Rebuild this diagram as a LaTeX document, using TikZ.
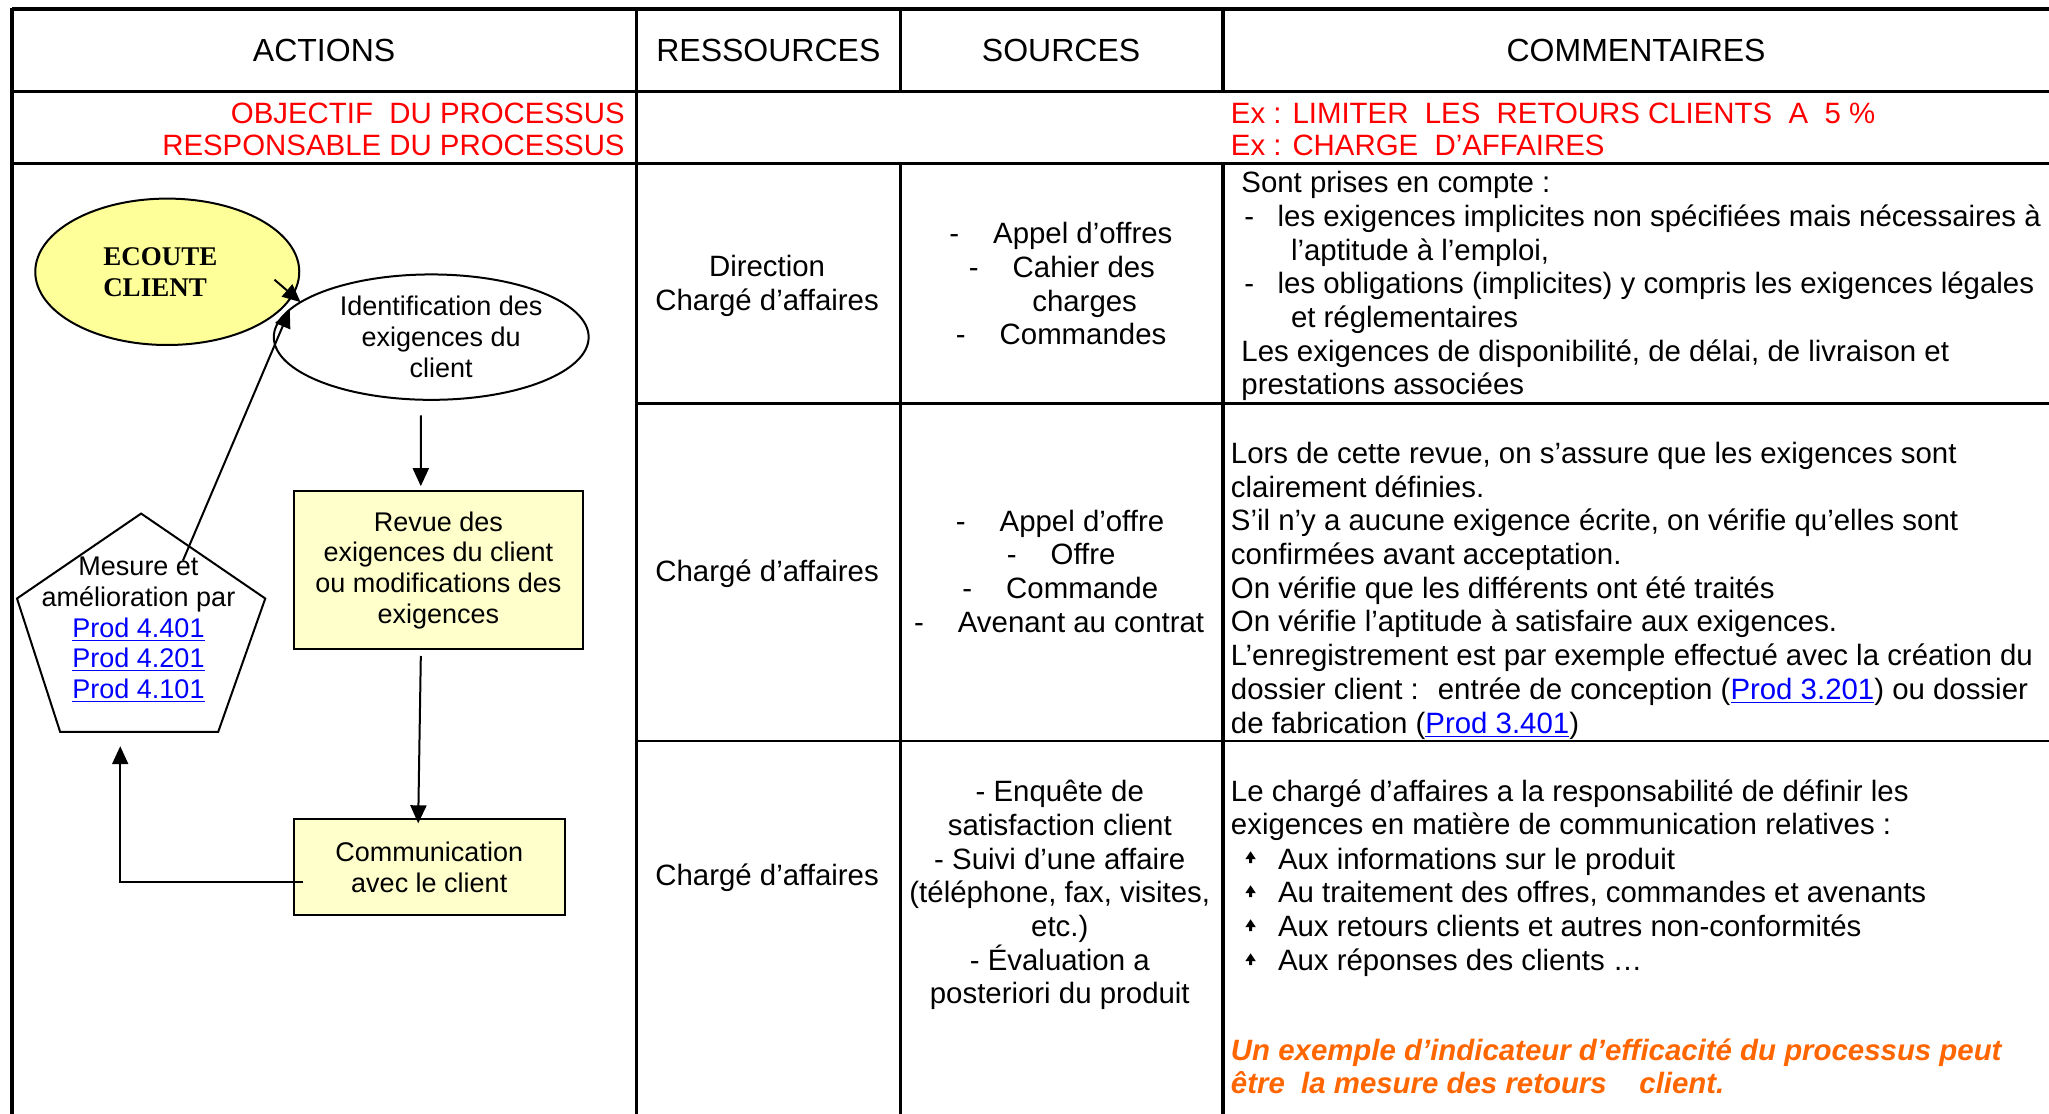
\documentclass[tikz,border=0pt]{standalone}
\usepackage{fontspec}
\setmainfont{Liberation Sans}
\newfontfamily\ecoutefont{Liberation Serif}
\usetikzlibrary{arrows.meta,shapes.geometric}
\definecolor{objred}{RGB}{255,0,0}
\definecolor{lnkblue}{RGB}{0,0,255}
\definecolor{indorange}{RGB}{255,102,0}
\definecolor{ecfill}{RGB}{255,255,153}
\definecolor{bxfill}{RGB}{255,255,204}
\newcommand\lnk[1]{\textcolor{lnkblue}{\underline{#1}}}
\newcommand\upbullet[2]{\fill (#1,#2-5.5) -- (#1+4,#2+0.5) -- (#1+1.2,#2+0.5) -- (#1+1.2,#2+3.5) -- (#1-1.2,#2+3.5) -- (#1-1.2,#2+0.5) -- (#1-4,#2+0.5) -- cycle;}
\begin{document}
\begin{tikzpicture}[x=0.6534pt,y=-0.6534pt,
  every node/.style={inner sep=0pt,outer sep=0pt},
  txt/.style={font=\fontsize{14.7}{16.85}\selectfont},
  hd/.style={font=\fontsize{16}{19}\selectfont,anchor=base},
  dg/.style={font=\fontsize{13.5}{15.4}\selectfont,align=center},
  grid/.style={line width=1.8pt},
  sep/.style={line width=1.4pt},
  conn/.style={line width=1pt,-{Triangle[length=9pt,width=8pt]}},
  boxshape/.style={draw,line width=1pt,fill=bxfill,rectangle}]
\useasboundingbox (0,0) rectangle (1568,852);
\clip (0,0) rectangle (1568,852);
\fill[white] (0,0) rectangle (1568,852);

% ---------- table grid ----------
\draw[line width=2.2pt] (9,7) -- (1570,7);
\draw[grid] (9,70) -- (1570,70);
\draw[grid] (9,125) -- (1570,125);
\draw[grid] (9,6) -- (9,860);
\draw[grid] (487,6) -- (487,860);
\draw[grid] (689,6) -- (689,70);
\draw[grid] (689,125) -- (689,860);
\draw[grid] (936,6) -- (936,70);
\draw[grid] (936,125) -- (936,860);
\draw[sep] (487,309) -- (1570,309);
\draw[sep] (487,567) -- (1570,567);

% ---------- headers ----------
\node[hd] (hA) at (248,47) {ACTIONS};
\node[hd] (hR) at (588,47) {RESSOURCES};
\node[hd] (hS) at (812,47) {SOURCES};
\node[hd] (hC) at (1252,47) {COMMENTAIRES};

% ---------- objective row ----------
\node[txt,anchor=east,align=right,text=objred,font=\fontsize{14.7}{16.3}\selectfont] (obj) at (478,99)
  {OBJECTIF~ DU PROCESSUS\\RESPONSABLE DU PROCESSUS};
\node[txt,anchor=west,align=left,text=objred,font=\fontsize{14.7}{16.3}\selectfont] (objex) at (942,99)
  {Ex : LIMITER~ LES~ RETOURS CLIENTS~ A~ 5 \%\\Ex : CHARGE~ D’AFFAIRES};

% ---------- row 1 ----------
\node[txt,align=center] (r1res) at (587,219) {Direction\\Chargé d’affaires};
\node[txt,anchor=base west] (r1s1) at (726.5,186) {-\hspace*{17pt}Appel d’offres};
\node[txt,anchor=base west] (r1s2) at (741.5,212) {-\hspace*{17pt}Cahier des};
\node[txt,anchor=base] (r1s3) at (830,238) {charges};
\node[txt,anchor=base west] (r1s4) at (731.5,264) {-\hspace*{17pt}Commandes};
\node[txt,anchor=west,align=left] (r1com) at (950,219)
  {Sont prises en compte :\\
   \hspace*{1.5pt}\makebox[16.6pt][l]{-}les exigences implicites non spécifiées mais nécessaires à\\
   \hspace*{24.8pt}l’aptitude à l’emploi,\\
   \hspace*{1.5pt}\makebox[16.6pt][l]{-}les obligations (implicites) y compris les exigences légales\\
   \hspace*{24.8pt}et réglementaires\\
   Les exigences de disponibilité, de délai, de livraison et\\
   prestations associées};

% ---------- row 2 ----------
\node[txt,anchor=base] (r2res) at (587,445) {Chargé d’affaires};
\node[txt,anchor=base west] (r2s1) at (731.5,407) {-\hspace*{17pt}Appel d’offre};
\node[txt,anchor=base west] (r2s2) at (770.5,432) {-\hspace*{17pt}Offre};
\node[txt,anchor=base west] (r2s3) at (736.5,458) {-\hspace*{17pt}Commande};
\node[txt,anchor=base west] (r2s4) at (699.5,484) {-\hspace*{17pt}Avenant au contrat};
\node[txt,anchor=west,align=left] (r2com) at (942,452)
  {Lors de cette revue, on s’assure que les exigences sont\\
   clairement définies.\\
   S’il n’y a aucune exigence écrite, on vérifie qu’elles sont\\
   confirmées avant acceptation.\\
   On vérifie que les différents ont été traités\\
   On vérifie l’aptitude à satisfaire aux exigences.\\
   L’enregistrement est par exemple effectué avec la création du\\
   dossier client :~ entrée de conception (\lnk{Prod 3.201}) ou dossier\\
   de fabrication (\lnk{Prod 3.401})};

% ---------- row 3 ----------
\node[txt,anchor=base] (r3res) at (587,678) {Chargé d’affaires};
\node[txt,align=center] (r3src) at (811,685)
  {- Enquête de\\satisfaction client\\- Suivi d’une affaire\\(téléphone, fax, visites,\\etc.)\\- Évaluation a\\posteriori du produit};
\node[txt,anchor=west,align=left] (r3com) at (942,620)
  {Le chargé d’affaires a la responsabilité de définir les\\
   exigences en matière de communication relatives :};
\node[txt,anchor=west,align=left] (r3bul) at (978,698)
  {Aux informations sur le produit\\
   Au traitement des offres, commandes et avenants\\
   Aux retours clients et autres non-conformités\\
   Aux réponses des clients …};
\upbullet{957}{657}
\upbullet{957}{683}
\upbullet{957}{709}
\upbullet{957}{735}
\node[txt,anchor=west,align=left,text=indorange,font=\fontsize{14.7}{16.85}\selectfont\bfseries\itshape] (r3ind) at (942,816)
  {Un exemple d’indicateur d’efficacité du processus peut\\
   être~ la mesure des retours~~~ client.};

% ---------- process diagram ----------
\node[ellipse,draw,line width=1pt,fill=ecfill,minimum width=132pt,minimum height=73.2pt,
      align=left,font=\fontsize{13.5}{15.6}\selectfont\ecoutefont\bfseries] (ecoute) at (128,208)
  {ECOUTE\hspace*{7pt}\\CLIENT};
\node[ellipse,draw,line width=1pt,fill=white,minimum width=154.2pt,minimum height=62.7pt,dg] (ident) at (330,258)
  {\hspace*{10pt}Identification des\\\hspace*{10pt}exigences du\\\hspace*{10pt}client};
\node[boxshape,minimum width=144.4pt,minimum height=79pt,dg] (revue) at (335.5,436.5)
  {Revue des\\exigences du client\\ou modifications des\\exigences};
\node[boxshape,minimum width=135.3pt,minimum height=47.7pt,dg] (comm) at (328.5,663.5)
  {Communication\\avec le client};

% pentagon
\coordinate (p1) at (108,393);
\coordinate (p2) at (203,458);
\coordinate (p3) at (167,560);
\coordinate (p4) at (46,560);
\coordinate (p5) at (13,458);
\draw[line width=1pt,fill=white] (p1) -- (p2) -- (p3) -- (p4) -- (p5) -- cycle;
\node[dg] (mesure) at (106,482)
  {Mesure et\\amélioration par\\\lnk{Prod 4.401}\\\lnk{Prod 4.201}\\\lnk{Prod 4.101}};

% connectors
\coordinate (e1) at (210,214);
\coordinate (m1) at (140,429);
\coordinate (c5) at (92,571);
\draw[conn] (e1) -- (ident.165);
\draw[conn] (m1) -- (ident.169);
\draw[conn] ([xshift=-5.2pt,yshift=-7.8pt]ident.south) -- ([xshift=-8.8pt,yshift=2.6pt]revue.north);
\draw[conn] ([xshift=-8.8pt,yshift=-3.3pt]revue.south) -- ([xshift=-5.55pt,yshift=-2pt]comm.north);
\draw[conn] ([xshift=4.6pt,yshift=-7.5pt]comm.west) -| (c5);
\end{tikzpicture}
\end{document}
